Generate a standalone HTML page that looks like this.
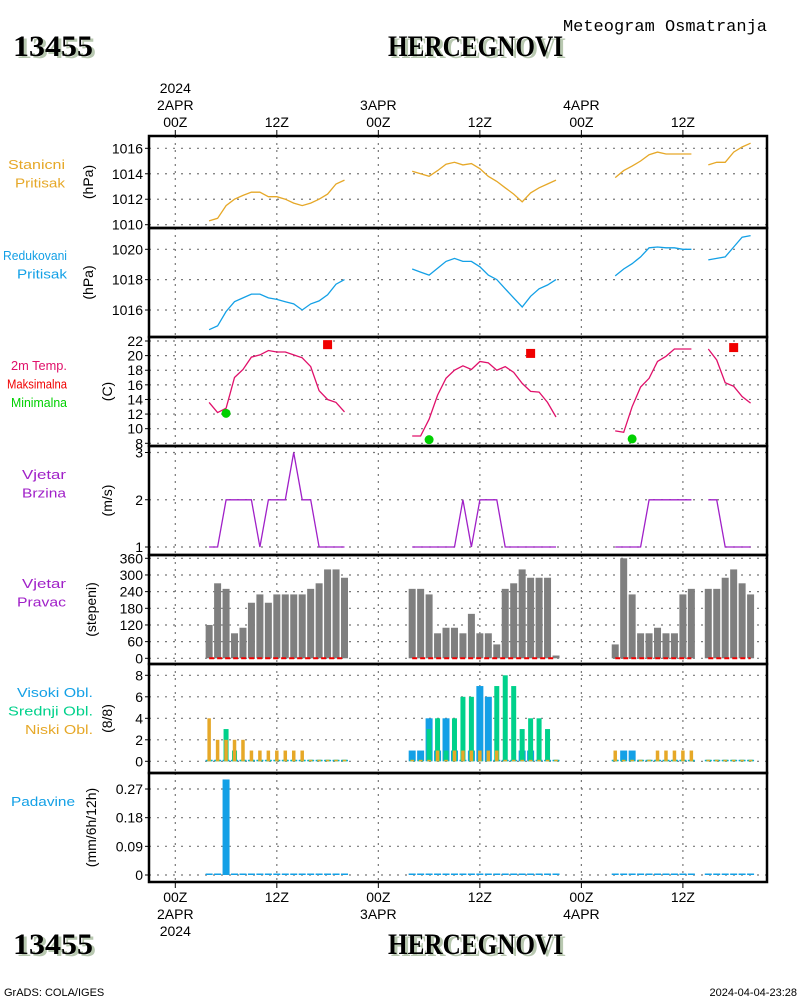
<!DOCTYPE html>
<html><head><meta charset="utf-8">
<style>
html,body{margin:0;padding:0;background:#fff;}
svg{display:block;font-family:"Liberation Sans",sans-serif;}
.t{font-size:14px;fill:#000;}
.lbl{font-size:13px;}
.title{font-family:"Liberation Serif",serif;font-weight:bold;font-size:30px;fill:#000;}
.shadow{font-family:"Liberation Serif",serif;font-weight:bold;font-size:30px;fill:#b8c8b0;}
</style></head>
<body>
<svg id="chart" width="800" height="1000" viewBox="0 0 800 1000" xmlns="http://www.w3.org/2000/svg">
<text class="shadow" x="16" y="58" textLength="80" lengthAdjust="spacingAndGlyphs">13455</text>
<text class="title" x="13" y="56" textLength="80" lengthAdjust="spacingAndGlyphs">13455</text>
<text class="shadow" x="391" y="58" textLength="175" lengthAdjust="spacingAndGlyphs">HERCEGNOVI</text>
<text class="title" x="388" y="56" textLength="175" lengthAdjust="spacingAndGlyphs">HERCEGNOVI</text>
<text x="767" y="31" text-anchor="end" style="font-family:'Liberation Mono',monospace;font-size:17px">Meteogram Osmatranja</text>
<text class="shadow" x="16" y="956" textLength="80" lengthAdjust="spacingAndGlyphs">13455</text>
<text class="title" x="13" y="954" textLength="80" lengthAdjust="spacingAndGlyphs">13455</text>
<text class="shadow" x="391" y="956" textLength="175" lengthAdjust="spacingAndGlyphs">HERCEGNOVI</text>
<text class="title" x="388" y="954" textLength="175" lengthAdjust="spacingAndGlyphs">HERCEGNOVI</text>
<text x="4" y="996" style="font-size:11px">GrADS: COLA/IGES</text>
<text x="797" y="996" text-anchor="end" style="font-size:11px">2024-04-04-23:28</text>
</svg>
<script>
// ---- data ----
const hours = [4,5,6,7,8,9,10,11,12,13,14,15,16,17,18,19,20,
 28,29,30,31,32,33,34,35,36,37,38,39,40,41,42,43,44,45,
 52,53,54,55,56,57,58,59,60,61, 63,64,65,66,67,68];
const stnPressure = [1010.3,1010.5,1011.5,1012.0,1012.3,1012.55,1012.55,1012.2,1012.2,1012.0,1011.7,1011.5,1011.7,1012.0,1012.4,1013.2,1013.5,
 1014.2,1014.0,1013.8,1014.25,1014.75,1014.9,1014.7,1014.8,1014.4,1013.8,1013.4,1012.9,1012.4,1011.8,1012.5,1012.9,1013.2,1013.5,
 1013.7,1014.25,1014.6,1015.0,1015.5,1015.7,1015.55,1015.55,1015.55,1015.55, 1014.7,1014.9,1014.9,1015.7,1016.1,1016.4];
const redPressure = [1014.7,1014.95,1015.9,1016.55,1016.8,1017.05,1017.05,1016.8,1016.7,1016.55,1016.4,1016.0,1016.4,1016.6,1017.0,1017.7,1018.0,
 1018.7,1018.5,1018.3,1018.75,1019.2,1019.4,1019.2,1019.2,1018.85,1018.3,1018.0,1017.4,1016.8,1016.2,1016.9,1017.4,1017.65,1018.0,
 1018.25,1018.7,1019.05,1019.5,1020.1,1020.15,1020.1,1020.1,1020.0,1020.0, 1019.3,1019.4,1019.5,1020.15,1020.8,1020.9];
const temp = [13.6,12.2,12.8,17.0,18.1,19.8,20.1,20.7,20.5,20.5,20.1,19.7,18.5,15.2,14.0,13.6,12.3,
 9.0,9.0,11.3,14.6,16.9,18.0,18.6,18.1,19.2,19.0,18.0,18.5,17.7,16.2,15.1,15.0,13.6,11.6,
 9.7,9.5,13.0,15.7,16.9,19.2,19.9,20.9,20.9,20.9, 20.9,19.4,16.3,15.8,14.4,13.5];
const tmaxHours = [18,42,66];
const tmaxVals = [21.5,20.3,21.1];
const tminHours = [6,30,54];
const tminVals = [12.1,8.5,8.6];
const windSpeed = [1,1,2,2,2,2,1,2,2,2,3,2,2,1,1,1,1,
 1,1,1,1,1,1,2,1,2,2,2,1,1,1,1,1,1,1,
 1,1,1,1,2,2,2,2,2,2, 2,2,1,1,1,1];
const windDir = [120,270,250,90,110,200,230,200,230,230,230,230,250,270,320,320,290,
 250,250,230,90,110,110,90,160,90,90,50,250,270,320,290,290,290,10,
 50,360,230,90,90,110,90,90,230,250, 250,250,290,320,270,230];
const cloudHigh = [0,0,0,0,0,0,0,0,0,0,0,0,0,0,0,0,0,
 1,1,4,1,4,1,0,1,7,6,0,0,0,1,1,0,0,0,
 0,1,1,0,0,0,0,0,0,0, 0,0,0,0,0,0];
const cloudMid = [0,0,3,1,0,0,0,0,0,0,0,0,0,0,0,0,0,
 0,0,3,4,1,4,6,6,0,0,7,8,7,3,4,4,3,0,
 0,0,0,0,0,0,0,0,0,0, 0,0,0,0,0,0];
const cloudLow = [4,2,2,2,2,1,1,1,1,1,1,1,0,0,0,0,0,
 0,0,0,1,0,1,1,1,1,1,1,0,0,0,0,0,0,0,
 1,0,0,0,0,1,1,1,1,1, 0,0,0,0,0,0];
const precip = [0,0,0.3,0,0,0,0,0,0,0,0,0,0,0,0,0,0,
 0,0,0,0,0,0,0,0,0,0,0,0,0,0,0,0,0,0,
 0,0,0,0,0,0,0,0,0,0, 0,0,0,0,0,0];
const stnTicks = [1010,1012,1014,1016];
const redTicks = [1016,1018,1020];
const tempTicks = [8,10,12,14,16,18,20,22];
const wsTicks = [1,2,3];
const wdTicks = [0,60,120,180,240,300,360];
const cloudTicks = [0,2,4,6,8];
const precipTicks = [0,0.09,0.18,0.27];
const timeTickHours = [0,12,24,36,48,60];
const timeTickLabels = ["00Z","12Z","00Z","12Z","00Z","12Z"];
const dateLabels = ["2APR","","3APR","","4APR",""];

// ---- layout ----
const svg = document.getElementById('chart');
const NS = 'http://www.w3.org/2000/svg';
const L = 149, R = 767;
function x(h){ return 175.3 + h*8.46; }
function mk(tag, attrs, parent){
  const e = document.createElementNS(NS, tag);
  for (const k in attrs) e.setAttribute(k, attrs[k]);
  (parent||svg).appendChild(e);
  return e;
}
function linY(v0,p0,v1,p1){ return v => p0 + (v-v0)*(p1-p0)/(v1-v0); }
const panels = [
  {name:'station-pressure', top:136, bot:228, y:linY(1010,224.7,1016,148.3), ticks:stnTicks, fmt:v=>v, unit:'(hPa)', ux:93,
    labels:[['Stanicni','#e6a828',57],['Pritisak','#e6a828',50]], lx:65, ly:169},
  {name:'reduced-pressure', top:228, bot:337, y:linY(1016,310,1020,249.3), ticks:redTicks, fmt:v=>v, unit:'(hPa)', ux:93,
    labels:[['Redukovani','#13a0e6',64],['Pritisak','#13a0e6',50]], lx:67, ly:260},
  {name:'temperature', top:337, bot:446, y:linY(8,443.3,22,341), ticks:tempTicks, fmt:v=>v, unit:'(C)', ux:112,
    labels:[['2m Temp.','#e0106a',56],['Maksimalna','#f00000',60],['Minimalna','#00d000',56]], lx:67, ly:370},
  {name:'wind-speed', top:446, bot:555, y:linY(1,547,3,452.5), ticks:wsTicks, fmt:v=>v, unit:'(m/s)', ux:112,
    labels:[['Vjetar','#a020c8',44],['Brzina','#a020c8',44]], lx:66, ly:479},
  {name:'wind-direction', top:555, bot:664, y:linY(0,658.3,360,558.3), ticks:wdTicks, fmt:v=>v, unit:'(stepeni)', ux:96,
    labels:[['Vjetar','#a020c8',44],['Pravac','#a020c8',49]], lx:66, ly:588},
  {name:'clouds', top:664, bot:773, y:linY(0,761.3,8,675.3), ticks:cloudTicks, fmt:v=>v, unit:'(8/8)', ux:112,
    labels:[['Visoki Obl.','#13a0e6',76],['Srednji Obl.','#00d18b',85],['Niski Obl.','#e6a828',68]], lx:93, ly:697},
  {name:'precipitation', top:773, bot:882, y:linY(0,875,0.27,789), ticks:precipTicks, fmt:v=>v, unit:'(mm/6h/12h)', ux:96,
    labels:[['Padavine','#13a0e6',64]], lx:75, ly:806}
];

panels.forEach(p=>{
  const g = mk('g',{});
  
  
  timeTickHours.forEach(h=>{
    const gl = mk('line',{x1:x(h),x2:x(h),y1:p.top,y2:p.bot,stroke:'#777','stroke-width':1.2,'stroke-dasharray':'2,5'},g);
    
    
  });
  p.ticks.forEach(v=>{
    const yy = p.y(v);
    const gl = mk('line',{x1:L,x2:R,y1:yy,y2:yy,stroke:'#777','stroke-width':1.2,'stroke-dasharray':'2,6'},g);
    
    
    mk('line',{x1:L-4,x2:L,y1:yy,y2:yy,stroke:'#000','stroke-width':1},g);
    const t = mk('text',{x:L-6,y:yy+5,'text-anchor':'end',class:'t'},g);
    t.textContent = p.fmt(v);
    
    
  });
  const cy = (p.top+p.bot)/2;
  const u = mk('text',{x:p.ux,y:cy,'text-anchor':'middle',class:'t',transform:`rotate(-90 ${p.ux} ${cy})`},g);
  u.textContent = p.unit;
  
  
  p.labels.forEach((lb,i)=>{
    const t = mk('text',{x:p.lx,y:p.ly+i*18.5,'text-anchor':'end',class:'t lbl',textLength:lb[2],lengthAdjust:'spacingAndGlyphs'},g);
    t.style.fill = lb[1];
    t.textContent = lb[0];
    
    
  });
});

function segments(){
  const segs=[]; let cur=[];
  hours.forEach((h,i)=>{
    if (cur.length && h-hours[cur[cur.length-1]]>1){ segs.push(cur); cur=[]; }
    cur.push(i);
  });
  if (cur.length) segs.push(cur);
  return segs;
}
const segs = segments();
function drawLine(vals, p, color, name){
  segs.forEach(s=>{
    const pts = s.map(i=>x(hours[i]).toFixed(1)+','+p.y(vals[i]).toFixed(1)).join(' ');
    const pl = mk('polyline',{points:pts,fill:'none',stroke:color,'stroke-width':1.3});
    
    
  });
}
drawLine(stnPressure, panels[0], '#e6a828', 'station-pressure-line');
drawLine(redPressure, panels[1], '#13a0e6', 'reduced-pressure-line');
drawLine(temp, panels[2], '#e0106a', 'temperature-line');
drawLine(windSpeed, panels[3], '#a020c8', 'wind-speed-line');

tmaxHours.forEach((h,i)=>{
  const r = mk('rect',{x:x(h)-4.5,y:panels[2].y(tmaxVals[i])-4.5,width:9,height:9,fill:'#f00000'});
  
  
});
tminHours.forEach((h,i)=>{
  const c = mk('circle',{cx:x(h),cy:panels[2].y(tminVals[i]),r:4.5,fill:'#00d000'});
  
  
});

function bar(h, v, p, w, color, name){
  const y0 = p.y(0);
  let yy = p.y(v);
  let hh = y0-yy;
  if (hh < 1.5){ hh = 1.5; yy = y0-1.5; }
  const r = mk('rect',{x:x(h)-w/2,y:yy,width:w,height:hh,fill:color});
  
  
}
hours.forEach((h,i)=>bar(h, windDir[i], panels[4], 7, '#7f7f7f', 'wind-direction-bar'));
segs.forEach(s=>{
  const y0 = panels[4].y(0);
  const dl = mk('line',{x1:x(hours[s[0]]),x2:x(hours[s[s.length-1]]),y1:y0,y2:y0,stroke:'#f00000','stroke-width':2,'stroke-dasharray':'5,3'});
  
  
});
hours.forEach((h,i)=>bar(h, cloudHigh[i], panels[5], 7, '#13a0e6', 'high-cloud-bar'));
hours.forEach((h,i)=>bar(h, cloudMid[i], panels[5], 5, '#00d18b', 'mid-cloud-bar'));
hours.forEach((h,i)=>bar(h, cloudLow[i], panels[5], 3.5, '#e6a828', 'low-cloud-bar'));
hours.forEach((h,i)=>bar(h, precip[i], panels[6], 7, '#13a0e6', 'precip-bar'));

panels.forEach(p=>{
  const fr = mk('rect',{x:L,y:p.top,width:R-L,height:p.bot-p.top,fill:'none',stroke:'#000','stroke-width':2.5});
  
  
});
timeTickHours.forEach((h,i)=>{
  const xx = x(h);
  mk('line',{x1:xx,x2:xx,y1:130,y2:136,stroke:'#000','stroke-width':1});
  mk('line',{x1:xx,x2:xx,y1:882,y2:888,stroke:'#000','stroke-width':1});
  const t1 = mk('text',{x:xx,y:127,'text-anchor':'middle',class:'t'});
  t1.textContent = timeTickLabels[i];
  
  
  const t2 = mk('text',{x:xx,y:902,'text-anchor':'middle',class:'t'});
  t2.textContent = timeTickLabels[i];
  
  
  if (dateLabels[i]){
    const d1 = mk('text',{x:xx,y:110,'text-anchor':'middle',class:'t'});
    d1.textContent = dateLabels[i];
    
    
    const d2 = mk('text',{x:xx,y:919,'text-anchor':'middle',class:'t'});
    d2.textContent = dateLabels[i];
    
    
  }
});
const y1 = mk('text',{x:x(0),y:93,'text-anchor':'middle',class:'t'});
y1.textContent = '2024';


const y2 = mk('text',{x:x(0),y:936,'text-anchor':'middle',class:'t'});
y2.textContent = '2024';


</script>
</body></html>
